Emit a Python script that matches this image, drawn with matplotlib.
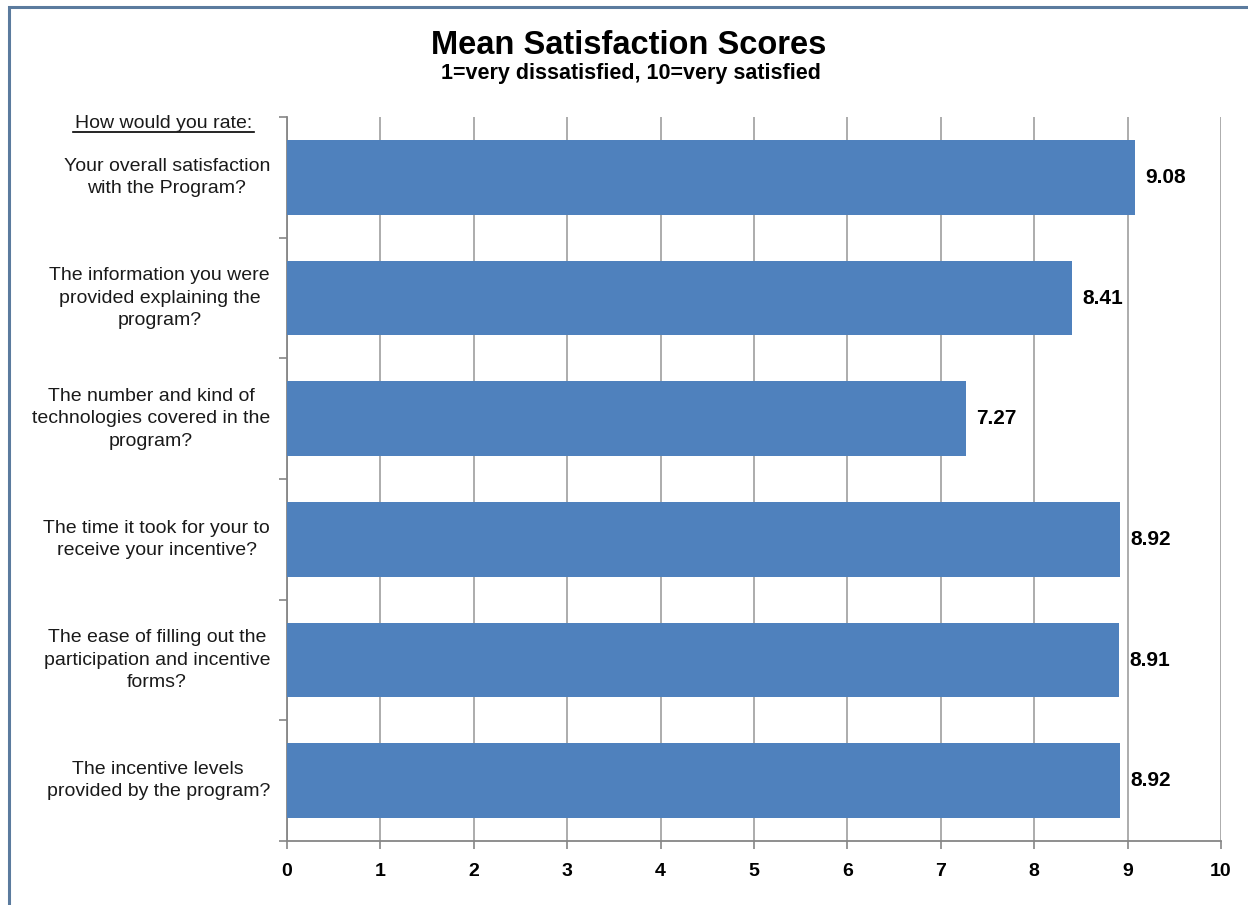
import matplotlib
matplotlib.use("Agg")
import matplotlib.pyplot as plt
from matplotlib.patches import Rectangle

plt.rcParams['font.family'] = ['Liberation Sans', 'DejaVu Sans']

# Survey items (top to bottom) and their mean scores
questions = [
    "Your overall satisfaction\nwith the Program?",
    "The information you were\nprovided explaining the\nprogram?",
    "The number and kind of\ntechnologies covered in the\nprogram?",
    "The time it took for your to\nreceive your incentive?",
    "The ease of filling out the\nparticipation and incentive\nforms?",
    "The incentive levels\nprovided by the program?",
]
scores = [9.08, 8.41, 7.27, 8.92, 8.91, 8.92]
x_ticks = list(range(0, 11))

title = "Mean Satisfaction Scores"
subtitle = "1=very dissatisfied, 10=very satisfied"
header = "How would you rate:"

W, H = 1248, 905
fig = plt.figure(figsize=(W / 100, H / 100), dpi=100)
fig.patch.set_facecolor("white")

# Chart frame (open on the right and bottom edges)
fig.patches.append(Rectangle((8.5 / W, -0.1), 1.2, 1 - 7.5 / H + 0.1,
                             transform=fig.transFigure, fill=False,
                             edgecolor="#5B7B9E", linewidth=2.2, zorder=0))

ax = fig.add_axes([287 / W, 1 - 841 / H, (1221 - 287) / W, (841 - 117) / H])

n = len(questions)
positions = list(range(n))
ax.barh(positions, scores, height=0.62, color="#4F81BD", zorder=3)
ax.set_ylim(n - 0.5, -0.5)
ax.set_xlim(0, 10)

# Value labels just beyond each bar end
for p, s in zip(positions, scores):
    ax.text(s + 0.11, p, f"{s:.2f}", va="center", ha="left",
            fontsize=15, fontweight="bold", color="black", zorder=4)

# Vertical gridlines
ax.set_xticks(x_ticks)
ax.set_xticklabels([str(t) for t in x_ticks], fontsize=14, fontweight="bold")
ax.grid(axis="x", color="#A6A6A6", linewidth=1.3, zorder=0)
ax.set_axisbelow(True)

# Category boundary ticks on the y-axis
ax.set_yticks([i - 0.5 for i in range(n + 1)])
ax.set_yticklabels([])
ax.tick_params(axis="y", length=6, color="#868686", width=1.2)
ax.tick_params(axis="x", length=6, color="#868686", width=1.2, pad=10)

for side in ("top", "right"):
    ax.spines[side].set_visible(False)
for side in ("left", "bottom"):
    ax.spines[side].set_color("#868686")
    ax.spines[side].set_linewidth(1.3)

# Category labels: block right-aligned to the margin, lines centred
for p, q in zip(positions, questions):
    y_fig = ax.transData.transform((0, p))
    y_fig = fig.transFigure.inverted().transform(y_fig)[1]
    fig.text(270 / W, y_fig, q, ha="right", va="center",
             multialignment="center", fontsize=14,
             color="#1a1a1a", linespacing=1.42)

fig.text(163.5 / W, 1 - 123 / H, header, ha="center", va="center",
         fontsize=14, color="#1a1a1a")
# Underline beneath the header
fig.add_artist(plt.Line2D([73 / W, 254 / W], [1 - 132.5 / H, 1 - 132.5 / H],
                          transform=fig.transFigure, color="black",
                          linewidth=1.2))

fig.text(629 / W, 1 - 45 / H, title, ha="center", va="center",
         fontsize=23.5, fontweight="bold")
fig.text(631 / W, 1 - 74 / H, subtitle, ha="center", va="center",
         fontsize=15.5, fontweight="bold")

fig.savefig("out.png", dpi=100, facecolor="white")
